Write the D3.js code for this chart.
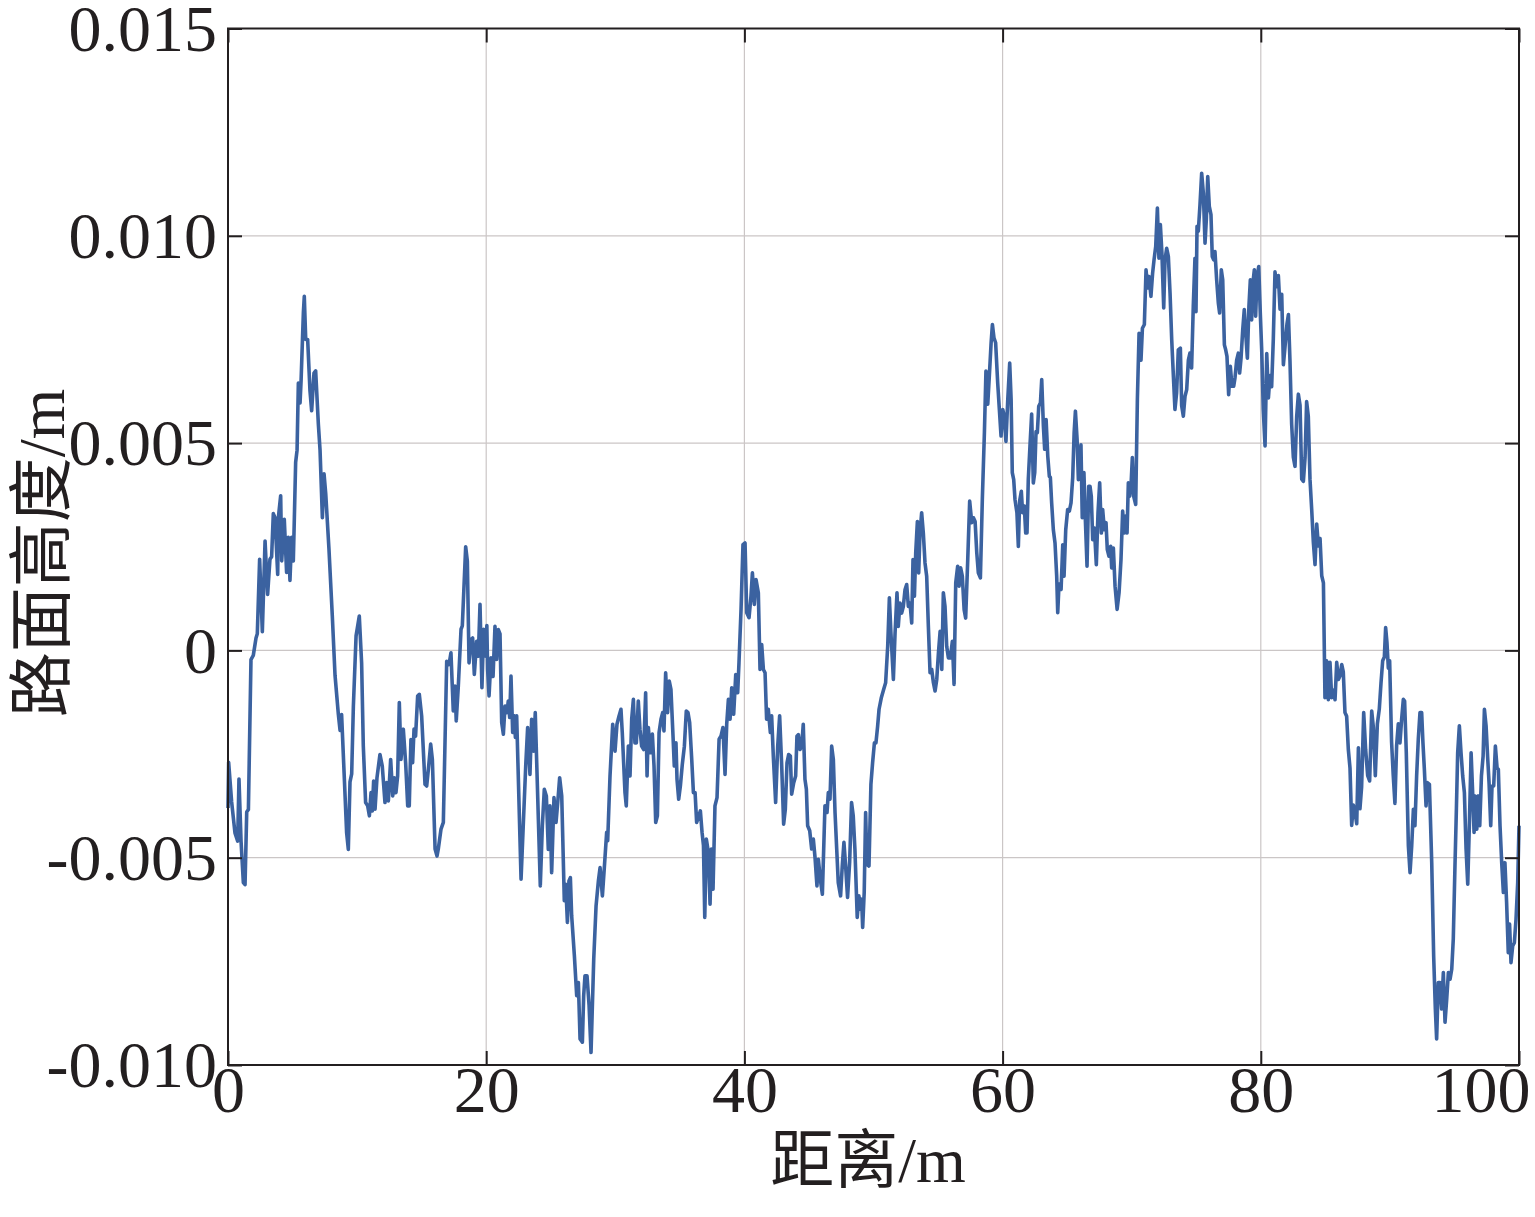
<!DOCTYPE html>
<html><head><meta charset="utf-8">
<script src="https://cdn.jsdelivr.net/npm/d3@7/dist/d3.min.js"></script>
<style>body{margin:0;background:#fff}svg{display:block}</style>
</head><body>
<svg id="chart" width="1535" height="1217"></svg>
<script>
// distance along the road (m)
const distance = [
0.00,0.05,0.28,0.54,0.75,0.85,1.01,1.19,1.32,1.45,1.58,1.78,1.96,2.17,2.27,2.45,2.66,2.87,3.07,3.25,3.38,3.51,3.64,3.85,3.90,4.08,4.16,4.36,4.54,4.67,4.80,4.93,5.06,5.14,5.24,5.35,5.45,5.58,5.66,5.84,5.91,6.02,6.17,6.35,6.48,6.66,6.79,7.00,7.13,7.31,7.44,7.57,7.82,8.08,8.29,8.55,8.68,8.80,9.01,9.19,9.32,9.45,9.58,9.71,9.92,10.17,
10.35,10.48,10.66,10.82,10.95,11.08,11.18,11.28,11.39,11.54,11.77,11.95,12.16,12.29,12.42,12.60,12.76,12.88,13.01,13.14,13.27,13.40,13.58,13.76,13.92,14.04,14.17,14.30,14.41,14.53,14.69,14.82,15.00,15.26,15.39,15.52,15.70,15.83,16.04,16.19,16.29,16.50,16.68,16.94,17.12,17.27,17.45,17.58,17.68,17.84,18.05,18.15,18.41,18.54,18.67,18.82,18.95,19.08,19.26,19.39,19.52,19.67,19.80,19.96,
20.05,20.11,20.22,20.37,20.53,20.68,20.81,20.94,21.07,21.20,21.33,21.46,21.61,21.71,21.82,21.92,22.05,22.18,22.26,22.36,22.70,22.88,23.06,23.21,23.39,23.52,23.68,23.80,24.04,24.19,24.35,24.50,24.66,24.81,24.94,25.07,25.25,25.41,25.54,25.69,25.85,26.05,26.16,26.29,26.41,26.52,26.62,26.83,27.01,27.14,27.27,27.45,27.55,27.65,27.81,27.97,28.12,28.33,28.51,28.69,28.82,29.00,29.15,29.33,29.41,29.59,29.80,29.98,
30.13,30.29,30.44,30.54,30.75,30.85,31.01,31.14,31.27,31.40,31.52,31.63,31.78,31.91,32.04,32.20,32.35,32.46,32.56,32.72,32.87,33.00,33.13,33.26,33.39,33.54,33.67,33.77,33.90,34.05,34.18,34.31,34.47,34.57,34.70,34.78,34.91,35.04,35.19,35.35,35.50,35.63,35.76,35.92,36.05,36.18,36.30,36.43,36.59,36.72,36.83,36.93,37.05,37.21,37.34,37.44,37.57,37.72,37.88,38.04,38.19,38.34,38.50,38.63,38.76,38.89,39.02,39.17,39.33,39.48,39.58,39.74,39.89,
40.05,40.18,40.36,40.51,40.62,40.77,40.90,41.08,41.21,41.34,41.47,41.60,41.72,41.85,42.01,42.11,42.24,42.42,42.58,42.73,42.89,43.04,43.17,43.30,43.43,43.56,43.66,43.82,43.97,44.07,44.18,44.31,44.44,44.56,44.69,44.80,44.90,45.06,45.21,45.34,45.47,45.62,45.73,45.88,46.04,46.24,46.40,46.50,46.63,46.76,46.89,47.02,47.15,47.27,47.45,47.58,47.71,47.84,47.99,48.15,48.30,48.43,48.56,48.74,48.87,48.97,49.08,49.16,49.28,49.39,49.49,49.65,49.80,49.93,
50.07,50.19,50.32,50.43,50.60,50.78,50.94,51.10,51.23,51.35,51.54,51.67,51.82,51.92,52.05,52.18,52.31,52.44,52.57,52.70,52.83,52.96,53.06,53.17,53.27,53.40,53.50,53.60,53.73,53.86,53.99,54.12,54.25,54.38,54.51,54.64,54.77,54.90,55.03,55.16,55.29,55.41,55.54,55.67,55.80,55.95,56.11,56.24,56.37,56.52,56.63,56.75,56.88,57.02,57.14,57.30,57.45,57.61,57.74,57.87,58.00,58.12,58.28,58.43,58.59,58.71,58.85,59.00,59.11,59.21,59.33,59.46,59.62,59.75,59.88,
60.01,60.13,60.26,60.40,60.55,60.66,60.75,60.86,60.96,61.11,61.22,61.32,61.45,61.55,61.68,61.79,61.89,61.99,62.12,62.25,62.38,62.49,62.59,62.69,62.80,62.93,63.03,63.16,63.26,63.37,63.50,63.62,63.70,63.80,63.93,64.06,64.19,64.27,64.37,64.53,64.66,64.76,64.89,65.04,65.17,65.30,65.43,65.54,65.64,65.77,65.87,65.97,66.07,66.17,66.30,66.41,66.54,66.67,66.77,66.87,66.98,67.11,67.26,67.39,67.52,67.65,67.75,67.88,68.01,68.11,68.24,68.37,68.45,68.58,68.71,68.87,69.02,69.17,69.30,69.41,69.53,69.64,69.74,69.84,69.95,
70.05,70.15,70.31,70.44,70.57,70.72,70.83,70.98,71.11,71.24,71.34,71.49,71.62,71.73,71.86,71.99,72.11,72.22,72.34,72.48,72.58,72.71,72.84,72.97,73.10,73.23,73.35,73.48,73.61,73.77,73.87,74.00,74.13,74.26,74.39,74.51,74.64,74.77,74.90,74.98,75.06,75.16,75.29,75.42,75.55,75.68,75.78,75.89,76.01,76.14,76.24,76.35,76.45,76.58,76.71,76.81,76.94,77.05,77.18,77.28,77.38,77.51,77.64,77.77,77.90,78.00,78.13,78.26,78.36,78.47,78.60,78.72,78.83,78.96,79.08,79.19,79.29,79.39,79.50,79.60,79.71,79.84,79.96,
80.07,80.19,80.33,80.46,80.59,80.71,80.84,80.97,81.10,81.23,81.36,81.49,81.62,81.75,81.88,82.03,82.14,82.26,82.39,82.52,82.65,82.78,82.91,83.04,83.17,83.30,83.43,83.55,83.68,83.81,83.94,84.07,84.20,84.33,84.46,84.59,84.72,84.85,84.97,85.10,85.23,85.36,85.49,85.62,85.75,85.88,86.01,86.14,86.27,86.39,86.52,86.65,86.78,86.91,87.04,87.17,87.30,87.43,87.56,87.68,87.81,87.97,88.12,88.28,88.43,88.59,88.72,88.87,89.03,89.18,89.31,89.44,89.57,89.67,89.77,89.88,89.98,
90.13,90.26,90.39,90.52,90.65,90.78,90.91,91.04,91.14,91.27,91.43,91.56,91.69,91.82,91.94,92.07,92.20,92.33,92.46,92.56,92.67,92.80,92.90,93.06,93.24,93.39,93.52,93.62,93.75,93.88,94.01,94.14,94.27,94.40,94.53,94.66,94.79,94.91,95.04,95.15,95.25,95.38,95.51,95.64,95.77,95.90,96.03,96.16,96.29,96.42,96.52,96.60,96.73,96.85,96.96,97.09,97.22,97.32,97.45,97.58,97.68,97.81,97.91,98.04,98.17,98.30,98.40,98.53,98.66,98.79,98.91,99.04,99.17,99.27,99.38,99.51,99.64,99.77,99.90,100.00
];
// road surface height (mm)
const heightMm = [
-3.8,-2.7,-3.65,-4.4,-4.6,-3.1,-4.6,-5.6,-5.65,-3.9,-3.84,-0.22,-0.12,0.3,0.4,2.2,0.45,2.64,1.35,2.2,2.26,3.3,3.2,1.83,3.2,3.73,2.16,3.16,1.88,2.73,1.69,2.73,2.16,3.2,4.54,4.83,6.45,5.97,6.5,8.16,8.54,7.5,7.5,6.26,5.78,6.69,6.74,5.45,4.83,3.2,4.26,3.78,2.45,0.83,-0.6,-1.55,-1.93,-1.55,-3.08,-4.4,-4.8,-3.17,-2.98,-1.36,0.35,0.83,
-0.3,-2.3,-3.67,-3.75,-3.99,-3.43,-3.87,-3.15,-3.83,-3.07,-2.51,-2.79,-3.67,-3.19,-3.63,-2.63,-3.51,-3.07,-3.43,-3.03,-1.26,-2.63,-1.9,-2.71,-3.75,-3.75,-2.15,-2.71,-1.9,-2.07,-1.1,-1.06,-1.58,-3.23,-3.27,-2.87,-2.26,-2.63,-4.79,-4.96,-4.79,-4.31,-4.15,-0.26,-0.34,-0.06,-1.46,-0.86,-1.7,-0.86,0.51,0.59,2.5,2.15,-0.3,0.26,0.3,-0.58,0.22,-0.14,1.11,-0.9,0.51,-0.14,
0.6,-0.46,-1.1,-0.18,-0.63,0.58,-0.22,0.5,0.4,-1.74,-2.02,-1.34,-1.5,-1.22,-1.62,-0.62,-1.98,-1.58,-2.1,-1.58,-5.52,-4.15,-2.79,-1.86,-2.99,-1.66,-2.43,-1.5,-4.07,-5.68,-4.23,-3.35,-3.51,-4.8,-3.75,-5.36,-3.55,-4.15,-3.67,-3.07,-3.51,-6.04,-5.64,-6.56,-5.56,-5.48,-6.4,-7.36,-8.33,-8.01,-9.37,-9.45,-8.33,-7.85,-7.85,-8.57,-9.7,-7.44,-6.16,-5.56,-5.24,-5.92,-5.24,-4.39,-4.59,-3.03,-1.78,-2.43,
-1.78,-1.58,-1.42,-1.98,-3.43,-3.75,-2.31,-3.03,-1.66,-1.18,-2.23,-2.23,-1.22,-1.9,-2.31,-2.39,-1.02,-3.03,-1.86,-2.47,-2.02,-2.79,-4.15,-3.99,-1.98,-1.66,-1.5,-1.94,-0.54,-1.5,-0.74,-0.94,-2.06,-2.79,-2.23,-3.11,-3.59,-3.27,-2.75,-2.31,-1.46,-1.5,-1.74,-2.63,-3.43,-3.43,-4.15,-4.03,-3.87,-4.39,-4.71,-6.44,-4.55,-4.87,-6.12,-4.79,-5.76,-3.75,-3.55,-2.14,-2.06,-1.86,-2.99,-1.78,-1.18,-1.66,-0.9,-1.54,-0.58,-1.02,-0.3,0.99,2.55,
2.59,0.91,0.79,1.31,1.87,1.11,1.71,1.39,-0.46,0.14,-0.46,-0.54,-1.66,-1.42,-1.98,-1.58,-2.55,-3.67,-2.31,-1.58,-2.79,-4.19,-3.83,-2.71,-2.51,-2.55,-3.47,-3.19,-3.03,-2.07,-2.03,-2.39,-2.31,-1.78,-3.11,-3.35,-4.23,-4.35,-4.79,-4.55,-4.99,-5.68,-5.04,-5.52,-5.88,-3.75,-3.91,-3.43,-3.59,-2.31,-2.63,-3.91,-4.79,-5.6,-5.92,-5.2,-4.63,-5.2,-5.96,-5.12,-3.67,-3.99,-4.79,-6.44,-5.92,-6.24,-6.0,-6.68,-5.84,-3.91,-5.16,-5.2,-3.23,-2.71,
-2.23,-2.23,-1.83,-1.42,-1.15,-0.95,-0.78,0.1,1.27,0.42,-0.7,0.42,1.39,0.58,1.14,0.9,1.06,1.46,1.59,1.06,1.14,0.66,2.19,1.31,2.35,3.11,1.87,2.83,3.32,2.83,2.11,1.79,0.58,-0.54,-0.46,-0.78,-0.98,-0.7,-0.06,0.46,-0.46,1.39,1.06,0.1,-0.18,-0.18,0.22,-0.82,1.63,2.03,1.55,1.99,1.79,0.98,0.78,2.19,3.6,3.08,3.2,3.11,2.35,1.87,1.75,3.64,5.25,6.74,5.94,6.78,7.42,7.86,7.54,7.42,6.45,5.81,5.17,
5.81,5.65,5.04,6.05,6.93,6.05,4.29,4.12,3.64,3.32,2.51,3.6,3.84,3.32,3.48,2.83,2.83,4.12,4.93,5.7,4.04,4.29,5.28,5.25,5.89,5.97,6.53,5.41,4.85,5.57,4.68,4.2,4.17,3.56,2.91,2.59,1.79,0.91,1.6,1.47,2.55,1.79,2.91,3.4,3.36,3.56,4.17,5.25,5.77,5.09,4.12,4.29,4.96,3.2,4.29,3.16,2.03,3.96,3.96,3.72,2.67,2.95,2.07,3.32,4.04,2.83,3.4,2.91,3.08,2.43,2.27,2.51,1.99,2.47,1.55,0.99,1.39,2.19,3.36,2.83,3.24,2.83,4.04,3.72,4.0,
4.65,3.72,3.52,6.05,7.65,7.0,7.77,7.86,9.18,8.74,9.02,8.54,9.1,9.42,9.74,10.67,9.46,10.27,9.58,8.26,9.42,9.7,9.5,8.62,7.49,6.61,5.81,6.21,7.25,7.29,5.9,5.65,6.13,6.29,7.0,7.17,6.81,8.3,9.46,8.17,10.23,10.11,10.75,11.51,11.03,9.82,10.39,11.43,10.71,10.51,9.5,9.42,9.62,8.94,8.38,8.14,9.18,8.94,7.37,7.25,7.09,6.17,6.85,6.37,6.37,6.57,7.0,7.17,6.69,7.05,7.73,8.22,7.65,7.05,8.3,8.94,7.97,8.86,9.18,8.06,9.02,9.26,8.14,
7.25,5.81,4.93,7.16,6.09,6.63,6.36,7.52,9.13,8.77,9.04,8.23,8.59,6.89,7.34,7.88,8.1,6.98,5.46,4.66,4.44,5.64,6.18,5.91,4.13,4.08,4.66,6.0,5.64,4.13,3.41,2.61,2.07,3.05,2.52,2.7,1.8,1.63,-1.14,-0.25,-1.19,-0.29,-1.14,-0.96,-1.19,-0.29,-0.7,-0.61,-0.34,-0.52,-1.5,-1.59,-2.39,-2.84,-4.22,-3.73,-3.91,-4.18,-2.35,-3.82,-3.29,-1.5,-2.39,-3.02,-3.15,-1.46,-1.86,-3.02,-1.77,-1.41,-0.79,-0.25,-0.16,0.55,0.2,-0.43,-0.25,
-2.21,-3.02,-3.69,-2.3,-1.77,-2.23,-1.66,-1.18,-1.22,-2.47,-4.71,-5.36,-4.71,-3.83,-4.23,-3.03,-2.14,-1.5,-1.5,-2.23,-2.87,-3.75,-3.19,-3.23,-5.12,-7.37,-8.65,-9.37,-8.01,-8.01,-8.65,-7.77,-8.97,-8.41,-7.77,-7.93,-7.69,-6.96,-5.2,-3.83,-2.47,-1.82,-2.47,-3.03,-3.43,-4.79,-5.64,-4.15,-2.47,-3.51,-4.39,-3.51,-4.31,-3.51,-4.23,-3.03,-2.55,-1.42,-1.82,-2.63,-3.19,-4.23,-3.27,-3.27,-2.31,-2.83,-2.87,-4.23,-5.12,-5.84,-5.12,-6.08,-7.29,-6.6,-7.53,-7.13,-7.05,-6.48,-5.6,-4.23
];
const xTicks = [0, 20, 40, 60, 80, 100];
const xTickLabels = ["0", "20", "40", "60", "80", "100"];
const yTicks = [-10, -5, 0, 5, 10, 15];           // mm
const yTickLabels = ["-0.010", "-0.005", "0", "0.005", "0.010", "0.015"];
const xTitle = "距离/m";
const yTitle = "路面高度/m";

const svg = d3.select("#chart");
const L = 228, R = 1519, T = 28.5, B = 1065;
const x = d3.scaleLinear().domain([0, 100]).range([L, R]);
const y = d3.scaleLinear().domain([-10, 15]).range([B, T]);
const ink = "#231f20";
const serif = "'Liberation Serif','Times New Roman',serif";

// grid
svg.append("g").selectAll("line").data(xTicks.filter(v => v > 0 && v < 100)).join("line")
  .attr("x1", d => x(d)).attr("x2", d => x(d)).attr("y1", T).attr("y2", B)
  .attr("stroke", "#cbc6c6").attr("stroke-width", 1.2);
svg.append("g").selectAll("line").data(yTicks.filter(v => v > -10 && v < 15)).join("line")
  .attr("y1", d => y(d)).attr("y2", d => y(d)).attr("x1", L).attr("x2", R)
  .attr("stroke", "#cbc6c6").attr("stroke-width", 1.2);

// data line
const data = distance.map((d, i) => [d, heightMm[i]]);
svg.append("path").datum(data)
  .attr("d", d3.line().x(d => x(d[0])).y(d => y(d[1])))
  .attr("fill", "none").attr("stroke", "#3b62a0").attr("stroke-width", 3.6)
  .attr("stroke-linejoin", "round");

// axes with inward ticks
function styleAxis(g) {
  g.select(".domain").remove();
  g.selectAll(".tick line").attr("stroke", ink).attr("stroke-width", 2);
  g.selectAll("text").attr("fill", ink).attr("font-family", serif).attr("font-size", 66);
}
const gl = svg.append("g").attr("transform", `translate(${L},0)`)
  .call(d3.axisLeft(y).tickValues(yTicks).tickSize(-14).tickPadding(11).tickFormat((d, i) => yTickLabels[i]))
  .call(styleAxis);
gl.selectAll("text").attr("dy", "0.33em");
const gr = svg.append("g").attr("transform", `translate(${R},0)`)
  .call(d3.axisRight(y).tickValues(yTicks).tickSize(-14).tickFormat(""))
  .call(styleAxis);
const gb = svg.append("g").attr("transform", `translate(0,${B})`)
  .call(d3.axisBottom(x).tickValues(xTicks).tickSize(-14).tickFormat((d, i) => xTickLabels[i]))
  .call(styleAxis);
gb.selectAll("text").attr("y", 47).attr("dy", 0);
gb.selectAll(".tick").filter(d => d === 100).select("text").attr("text-anchor", "end").attr("x", 11);
const gt = svg.append("g").attr("transform", `translate(0,${T})`)
  .call(d3.axisTop(x).tickValues(xTicks).tickSize(-14).tickFormat(""))
  .call(styleAxis);

// frame
svg.append("rect").attr("x", L).attr("y", T).attr("width", R - L).attr("height", B - T)
  .attr("fill", "none").attr("stroke", ink).attr("stroke-width", 2);

// titles
svg.append("text").attr("x", 868).attr("y", 1182).attr("text-anchor", "middle")
  .attr("font-family", "'Liberation Serif','Noto Sans CJK SC',serif").attr("font-size", 64)
  .attr("fill", ink).text(xTitle);
svg.append("text").attr("transform", "translate(64,553) rotate(-90)").attr("text-anchor", "middle")
  .attr("font-family", "'Liberation Serif','Noto Sans CJK SC',serif").attr("font-size", 65)
  .attr("fill", ink).text(yTitle);
</script>
</body></html>
